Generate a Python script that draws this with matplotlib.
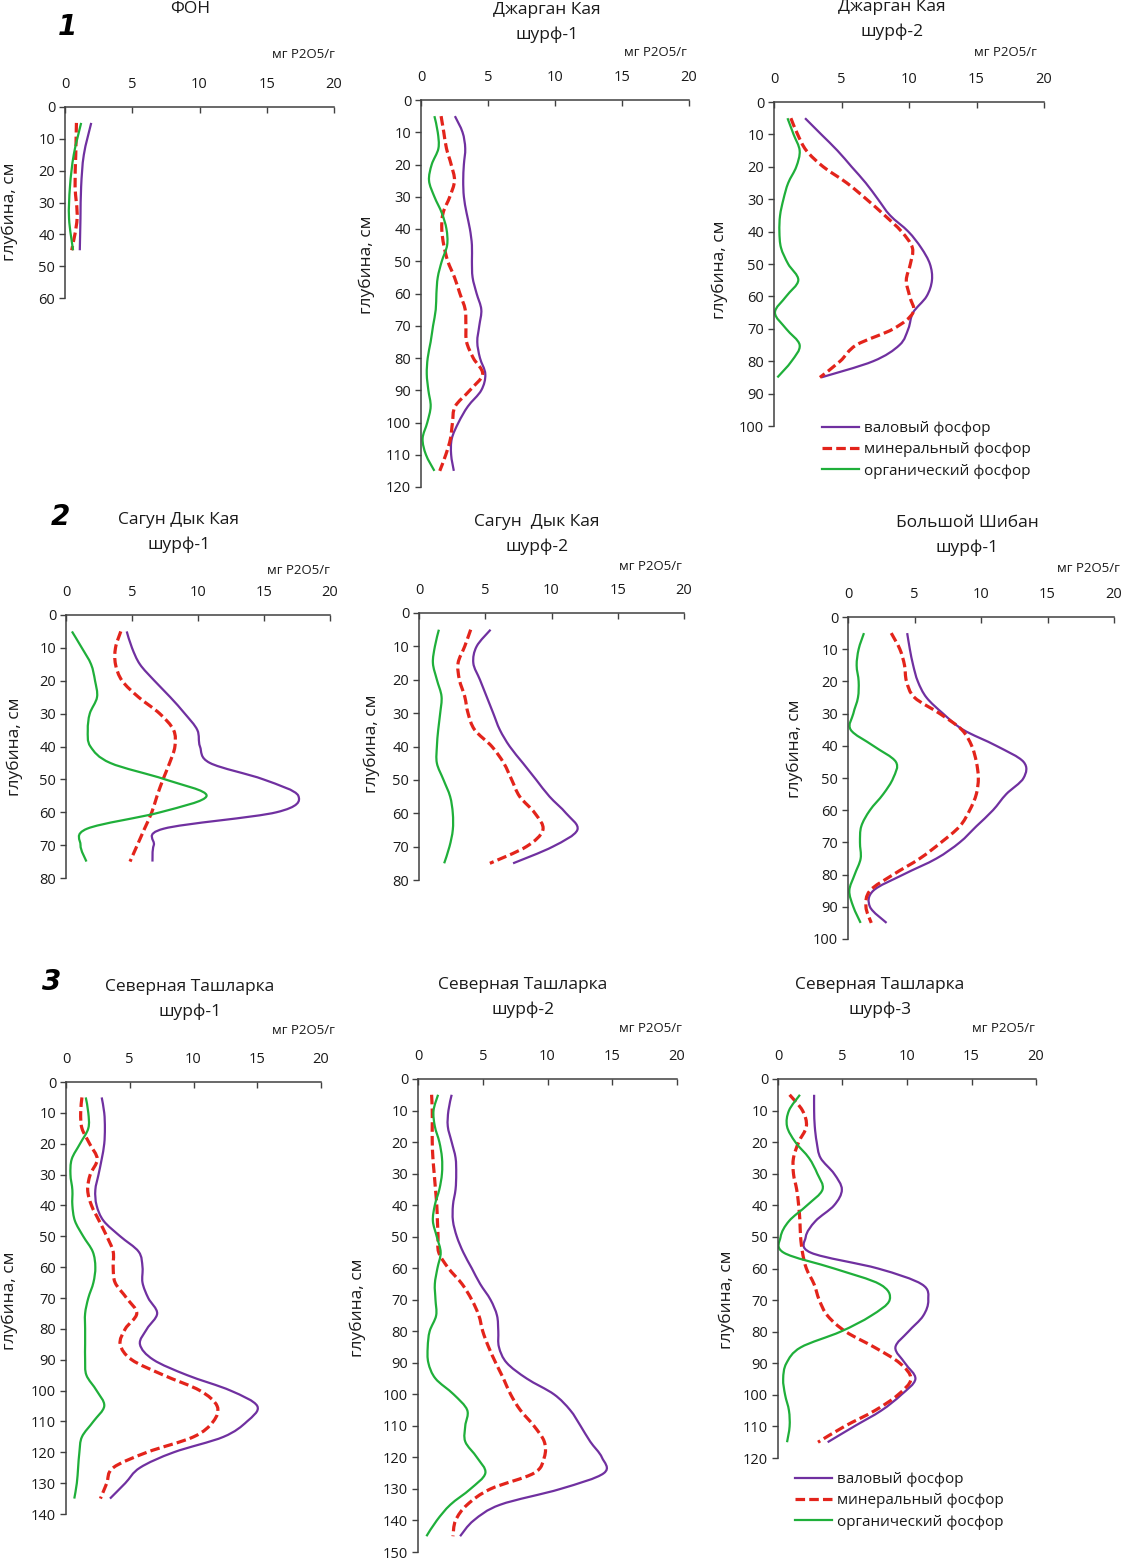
import numpy as np
import matplotlib.pyplot as plt
from matplotlib.path import Path
from matplotlib.patches import PathPatch
from matplotlib.lines import Line2D

plt.rcParams['font.family'] = ['Open Sans', 'DejaVu Sans']

# ---- данные: глубина (см) и содержание фосфора (мг P2O5/г) ----
fon_depth = [5, 15, 25, 35, 45]
fon_total = [1.95, 1.4, 1.2, 1.15, 1.1]
fon_mineral = [0.85, 0.8, 0.75, 0.9, 0.5]
fon_organic = [1.2, 0.65, 0.37, 0.3, 0.6]

dk1_depth = list(range(5, 120, 5))
dk1_total = [2.53, 3.1, 3.3, 3.2, 3.15, 3.2, 3.4, 3.65, 3.8, 3.8, 3.85, 4.15,
             4.5, 4.35, 4.2, 4.4, 4.8, 4.5, 3.5, 2.8, 2.3, 2.25, 2.45]
dk1_mineral = [1.5, 1.7, 1.9, 2.25, 2.5, 2.15, 1.65, 1.55, 1.7, 2.0, 2.5, 2.9,
               3.3, 3.35, 3.4, 3.9, 4.6, 3.65, 2.55, 2.35, 2.2, 1.85, 1.4]
dk1_organic = [1.0, 1.25, 1.3, 0.8, 0.6, 1.0, 1.55, 1.9, 1.95, 1.55, 1.25, 1.15,
               1.1, 0.9, 0.72, 0.5, 0.43, 0.55, 0.72, 0.47, 0.12, 0.37, 1.0]

dk2_depth = list(range(5, 90, 5))
dk2_total = [2.3, 3.5, 4.7, 5.75, 6.8, 7.7, 8.6, 9.95, 10.9, 11.55, 11.7, 11.3,
             10.3, 9.95, 9.3, 7.35, 3.5]
dk2_mineral = [1.25, 1.75, 2.4, 3.65, 5.4, 6.85, 8.2, 9.45, 10.25, 10.1, 9.8,
               10.05, 10.3, 8.85, 6.1, 4.9, 3.4]
dk2_organic = [1.0, 1.45, 1.9, 1.65, 1.05, 0.7, 0.45, 0.4, 0.52, 1.05, 1.8, 0.9,
               0.07, 0.9, 1.9, 1.3, 0.25]

sd1_depth = list(range(5, 80, 5))
sd1_total = [4.6, 5.0, 5.6, 6.7, 7.9, 9.0, 9.95, 10.15, 10.9, 14.95, 17.6, 15.95,
             7.4, 6.65, 6.55]
sd1_mineral = [4.15, 3.75, 3.75, 4.25, 5.5, 7.1, 8.15, 8.25, 7.85, 7.35, 6.9, 6.5,
               5.95, 5.4, 4.85]
sd1_organic = [0.45, 1.2, 1.9, 2.2, 2.35, 1.8, 1.65, 1.85, 3.35, 7.5, 10.65, 7.15,
               1.6, 1.1, 1.55]

sd2_depth = list(range(5, 80, 5))
sd2_total = [5.4, 4.35, 4.1, 4.6, 5.1, 5.6, 6.1, 6.85, 7.85, 8.85, 9.85, 11.1,
             11.95, 10.1, 7.1]
sd2_mineral = [3.9, 3.45, 2.95, 3.05, 3.45, 3.7, 4.2, 5.5, 6.4, 7.0, 7.6, 8.75,
               9.35, 8.1, 5.35]
sd2_organic = [1.5, 1.2, 1.05, 1.35, 1.7, 1.6, 1.45, 1.35, 1.35, 1.85, 2.35, 2.55,
               2.55, 2.3, 1.9]

bs1_depth = list(range(5, 100, 5))
bs1_total = [4.45, 4.65, 4.9, 5.25, 5.9, 7.15, 8.65, 11.15, 13.2, 13.2, 11.9,
             10.9, 9.65, 8.4, 6.65, 4.15, 1.9, 1.65, 2.9]
bs1_mineral = [3.25, 3.9, 4.25, 4.4, 5.0, 6.9, 8.55, 9.3, 9.65, 9.8, 9.65, 9.15,
               8.4, 7.0, 5.4, 3.4, 1.65, 1.35, 1.75]
bs1_organic = [1.2, 0.8, 0.65, 0.8, 0.75, 0.4, 0.2, 1.9, 3.6, 3.4, 2.65, 1.65,
               1.0, 0.9, 0.95, 0.5, 0.1, 0.4, 0.95]

nt1_depth = list(range(5, 140, 5))
nt1_total = [2.8, 3.0, 3.05, 3.0, 2.8, 2.55, 2.3, 2.4, 2.95, 4.25, 5.7, 6.0, 6.0,
             6.45, 7.15, 6.35, 5.8, 6.85, 9.5, 12.9, 15.0, 14.2, 12.35, 8.45,
             5.8, 4.65, 3.45]
nt1_mineral = [1.25, 1.15, 1.25, 1.85, 2.45, 1.9, 1.7, 2.0, 2.6, 3.2, 3.7, 3.7,
               3.85, 4.75, 5.55, 4.65, 4.25, 5.15, 7.65, 10.5, 11.85, 11.55, 10.0,
               6.35, 3.7, 3.2, 2.7]
nt1_organic = [1.55, 1.75, 1.75, 1.1, 0.45, 0.35, 0.5, 0.5, 0.7, 1.35, 2.1, 2.3,
               2.15, 1.75, 1.5, 1.5, 1.5, 1.5, 1.6, 2.4, 3.0, 2.15, 1.25, 1.05,
               0.95, 0.85, 0.65]

nt2_depth = list(range(5, 150, 5))
nt2_total = [2.6, 2.35, 2.3, 2.6, 2.9, 2.95, 2.9, 2.7, 2.7, 3.0, 3.5, 4.15, 4.8,
             5.6, 6.1, 6.2, 6.25, 6.85, 8.4, 10.5, 11.75, 12.55, 13.3, 14.2,
             14.35, 11.0, 6.35, 4.3, 3.25]
nt2_mineral = [1.05, 1.1, 1.1, 1.1, 1.15, 1.25, 1.35, 1.45, 1.5, 1.55, 1.6, 2.35,
               3.4, 4.15, 4.7, 5.0, 5.45, 6.0, 6.6, 7.15, 7.9, 8.95, 9.75, 9.75,
               8.95, 5.6, 3.8, 2.9, 2.7]
nt2_organic = [1.55, 1.2, 1.3, 1.65, 1.85, 1.85, 1.65, 1.3, 1.15, 1.45, 1.75, 1.5,
               1.3, 1.35, 1.4, 0.9, 0.75, 0.8, 1.35, 2.75, 3.8, 3.65, 3.65, 4.55,
               5.2, 4.05, 2.5, 1.45, 0.65]

nt3_depth = list(range(5, 120, 5))
nt3_total = [2.8, 2.8, 2.85, 3.0, 3.3, 4.35, 4.95, 4.35, 2.9, 2.15, 2.55, 7.75,
             11.15, 11.65, 11.25, 10.1, 9.1, 9.85, 10.65, 9.55, 8.0, 5.9, 3.85]
nt3_mineral = [0.9, 1.9, 2.2, 1.6, 1.2, 1.2, 1.45, 1.6, 1.7, 1.75, 1.9, 2.2, 2.8,
               3.2, 3.85, 5.25, 7.5, 9.45, 10.3, 9.3, 7.5, 5.15, 3.1]
nt3_organic = [1.7, 0.85, 0.7, 1.35, 2.4, 3.05, 3.45, 2.25, 0.85, 0.2, 0.45, 4.35,
               7.9, 8.65, 7.2, 4.85, 1.75, 0.65, 0.4, 0.55, 0.85, 0.9, 0.7]

x_ticks = [0, 5, 10, 15, 20]
legend_labels = ['валовый фосфор', 'минеральный фосфор', 'органический фосфор']
unit_label = 'мг P2O5/г'
depth_label = 'глубина, см'

c_total = '#7030A0'
c_mineral = '#E3241B'
c_organic = '#1FAF3A'
c_text = '#1a1a1a'

W, H = 1123, 1559

# положение панелей в пикселях: оси (x0, x20, y_top, y_bottom), ymax,
#   заголовок, центр заголовка, подпись единиц, подпись оси y
panels = [
    (fon_depth, fon_total, fon_mineral, fon_organic,
     (65, 334, 107, 298), 60, ['ФОН'], (190, 9), (303, 55), (10, 212)),
    (dk1_depth, dk1_total, dk1_mineral, dk1_organic,
     (421, 689, 100, 487), 120, ['Джарган Кая', 'шурф-1'], (547, 10), (655, 52), (367, 265)),
    (dk2_depth, dk2_total, dk2_mineral, dk2_organic,
     (774, 1044, 102, 426), 100, ['Джарган Кая', 'шурф-2'], (892, 7), (1005, 52), (720, 270)),
    (sd1_depth, sd1_total, sd1_mineral, sd1_organic,
     (66, 330, 615, 878), 80, ['Сагун Дык Кая', 'шурф-1'], (179, 520), (298, 570), (15, 747)),
    (sd2_depth, sd2_total, sd2_mineral, sd2_organic,
     (419, 684, 613, 880), 80, ['Сагун  Дык Кая', 'шурф-2'], (537, 522), (650, 567), (372, 744)),
    (bs1_depth, bs1_total, bs1_mineral, bs1_organic,
     (848, 1114, 617, 939), 100, ['Большой Шибан', 'шурф-1'], (967, 523), (1088, 569), (795, 749)),
    (nt1_depth, nt1_total, nt1_mineral, nt1_organic,
     (66, 321, 1082, 1514), 140, ['Северная Ташларка', 'шурф-1'], (190, 987), (303, 1031), (10, 1301)),
    (nt2_depth, nt2_total, nt2_mineral, nt2_organic,
     (418, 677, 1079, 1552), 150, ['Северная Ташларка', 'шурф-2'], (523, 985), (650, 1029), (358, 1308)),
    (nt3_depth, nt3_total, nt3_mineral, nt3_organic,
     (778, 1036, 1079, 1458), 120, ['Северная Ташларка', 'шурф-3'], (880, 985), (1003, 1029), (727, 1300)),
]


def smooth_path(x, y):
    # сглаженная линия как в Excel (кубические кривые Безье)
    pts = np.column_stack([x, y]).astype(float)
    n = len(pts)
    verts = [pts[0]]
    codes = [Path.MOVETO]
    for i in range(n - 1):
        p0 = pts[i - 1] if i > 0 else pts[i]
        p1 = pts[i]
        p2 = pts[i + 1]
        p3 = pts[i + 2] if i + 2 < n else pts[i + 1]
        verts += [p1 + (p2 - p0) / 6, p2 - (p3 - p1) / 6, p2]
        codes += [Path.CURVE4] * 3
    return Path(verts, codes)


def fx(px):
    return px / W


def fy(py):
    return 1 - py / H


fig = plt.figure(figsize=(W / 100, H / 100), dpi=100)

styles = [
    dict(color=c_total, lw=1.6, linestyle='-'),
    dict(color=c_mineral, lw=2.3, linestyle=(0, (3, 1.3))),
    dict(color=c_organic, lw=1.6, linestyle='-'),
]

for depth, tot, mine, org, (x0, x20, yt, yb), ymax, title, tpos, upos, lpos in panels:
    ax = fig.add_axes([fx(x0), fy(yb), (x20 - x0) / W, (yb - yt) / H])
    for vals, st in zip([tot, mine, org], styles):
        patch = PathPatch(smooth_path(vals, depth), fill=False, capstyle='butt',
                          joinstyle='round', **st)
        ax.add_patch(patch)
    ax.set_xlim(0, 20)
    ax.set_ylim(ymax, 0)
    ax.set_xticks(x_ticks)
    ax.set_yticks(np.arange(0, ymax + 1, 10))
    ax.xaxis.tick_top()
    ax.tick_params(axis='x', direction='in', length=4, pad=11, labelsize=10.5,
                   color='#404040', width=1, labelcolor=c_text)
    ax.tick_params(axis='y', direction='out', length=4, pad=3, labelsize=10.5,
                   color='#404040', width=1, labelcolor=c_text)
    for s in ['right', 'bottom']:
        ax.spines[s].set_visible(False)
    for s in ['left', 'top']:
        ax.spines[s].set_color('#404040')
        ax.spines[s].set_linewidth(1.1)
    ax.patch.set_alpha(0)

    for k, line in enumerate(title):
        fig.text(fx(tpos[0]), fy(tpos[1] + 25 * k), line, ha='center', va='center',
                 fontsize=12.5, color=c_text)
    fig.text(fx(upos[0]), fy(upos[1]), unit_label, ha='center', va='center',
             fontsize=9.5, color=c_text)
    fig.text(fx(lpos[0]), fy(lpos[1]), depth_label, ha='center', va='center',
             rotation=90, fontsize=12.5, color=c_text)

# номера групп
for num, (px, py) in zip(['1', '2', '3'], [(67, 27), (60, 517), (52, 982)]):
    fig.text(fx(px), fy(py), num, ha='center', va='center', fontsize=20,
             fontweight='bold', fontstyle='italic', family=['DejaVu Sans'])

# легенды
handles = [Line2D([], [], **st) for st in styles]
for lx, ly in [(822, 421), (795, 1472)]:
    fig.legend(handles, legend_labels, loc='upper left',
               bbox_to_anchor=(fx(lx), fy(ly)), frameon=False, fontsize=11,
               handlelength=2.4, handletextpad=0.35, labelspacing=0.42,
               borderpad=0, borderaxespad=0, labelcolor=c_text)

fig.savefig('out.png', dpi=100)
